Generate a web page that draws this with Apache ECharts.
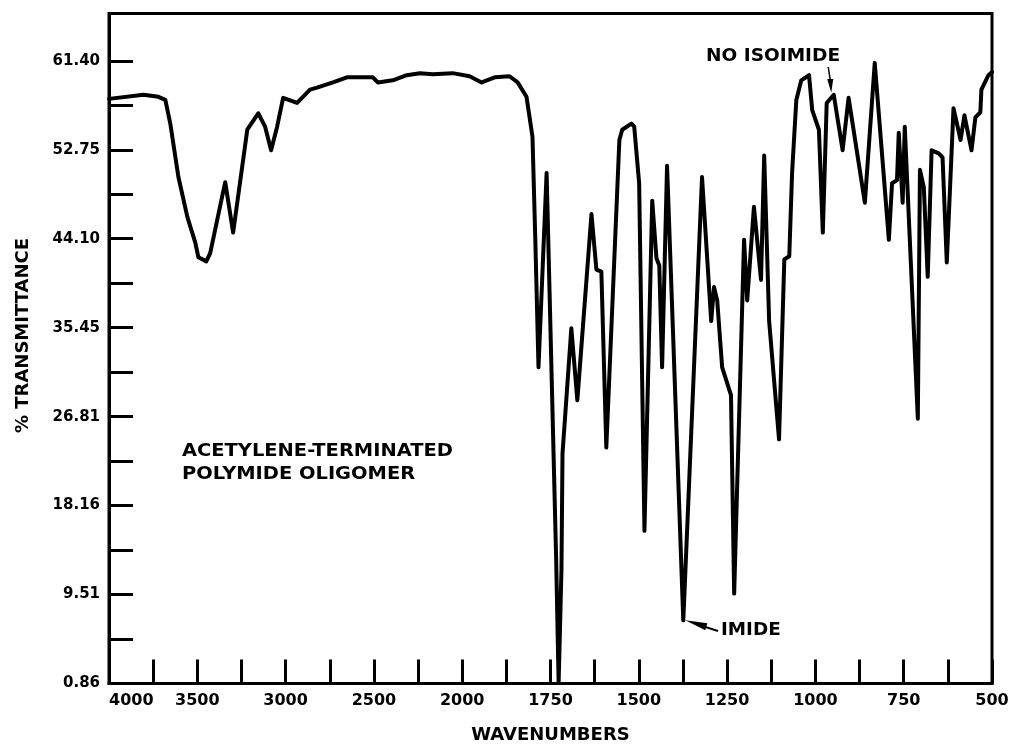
<!DOCTYPE html>
<html>
<head>
<meta charset="utf-8">
<script src="https://cdn.jsdelivr.net/npm/echarts/dist/echarts.min.js"></script>
<style>
html,body{margin:0;padding:0;background:#fff;}
#chart{width:1016px;height:751px;}
</style>
</head>
<body>
<div id="chart"></div>
<script>
// ---- data ----
const wavenumbers = [4000, 3805, 3720, 3681, 3653, 3607, 3556, 3511, 3494, 3449, 3427, 3342, 3297, 3217, 3155, 3116, 3082, 3048, 3014, 2935, 2862, 2822, 2732, 2653, 2506, 2478, 2393, 2314, 2240, 2167, 2054, 1979, 1945, 1908, 1866, 1843, 1818, 1810, 1801, 1793, 1784, 1761, 1734, 1727, 1719, 1716, 1691, 1674, 1634, 1620, 1606, 1592, 1555, 1547, 1521, 1513, 1499, 1484, 1462, 1450, 1442, 1434, 1420, 1374, 1321, 1295, 1287, 1278, 1264, 1239, 1230, 1202, 1193, 1174, 1154, 1145, 1131, 1103, 1088, 1074, 1066, 1054, 1040, 1018, 1009, 990, 979, 968, 948, 923, 906, 860, 832, 792, 783, 769, 764, 753, 747, 710, 704, 693, 682, 671, 651, 640, 628, 609, 589, 578, 558, 547, 533, 530, 510, 500];
const transmittance = [57.7, 58.1, 57.9, 57.6, 55.3, 50.1, 46.2, 43.7, 42.3, 41.9, 42.7, 49.6, 44.7, 54.7, 56.3, 55.0, 52.7, 55.0, 57.8, 57.3, 58.6, 58.8, 59.3, 59.8, 59.8, 59.3, 59.5, 60.0, 60.2, 60.1, 60.2, 59.9, 59.3, 59.8, 59.9, 59.3, 57.9, 56.1, 54.0, 44.0, 31.6, 50.5, 13.0, 0.9, 11.9, 23.2, 35.4, 28.4, 46.5, 41.1, 40.9, 23.8, 53.7, 54.7, 55.3, 55.0, 49.5, 15.7, 47.8, 42.2, 41.5, 31.6, 51.2, 7.0, 50.1, 36.1, 39.4, 38.1, 31.6, 28.9, 9.6, 44.0, 38.1, 47.2, 40.1, 52.2, 36.1, 24.6, 42.1, 42.4, 50.5, 57.6, 59.5, 60.0, 56.6, 54.7, 44.7, 57.3, 58.1, 52.7, 57.8, 47.6, 61.2, 44.0, 49.5, 49.8, 54.4, 47.6, 55.0, 26.6, 50.8, 49.1, 40.4, 52.7, 52.4, 52.0, 41.8, 56.8, 53.7, 56.1, 52.7, 55.9, 56.4, 58.6, 60.0, 60.3];
const xTickLabels = [4000, 3500, 3000, 2500, 2000, 1750, 1500, 1250, 1000, 750, 500];
const yTickLabels = ['0.86', '9.51', '18.16', '26.81', '35.45', '44.10', '52.75', '61.40'];
const yBase = 0.86, yStep = 8.6486, yTop = 66.0;

// piecewise wavenumber scale (scale change at 2000 cm-1), units of one labelled step
function wToU(w) { return w >= 2000 ? (4000 - w) / 500 : 4 + (2000 - w) / 250; }
function tToV(t) { return (t - yBase) / yStep; }

const seriesData = wavenumbers.map((w, i) => [wToU(w), tToV(transmittance[i])]);
const xLabelVals = xTickLabels.map(wToU);
const xTickVals = []; for (let k = 0; k <= 20; k++) xTickVals.push(k * 0.5);
const yLabelVals = yTickLabels.map((s, i) => i);
const yTickVals = []; for (let k = 0; k <= 14; k++) yTickVals.push(k * 0.5);

const FONT = 'DejaVu Sans';
const chart = echarts.init(document.getElementById('chart'), null, {renderer: 'canvas'});
chart.setOption({
  animation: false,
  backgroundColor: '#ffffff',
  grid: {left: 109, right: 24, top: 13.5, bottom: 67.5, show: true, borderColor: '#000', borderWidth: 3},
  xAxis: {
    type: 'value', min: 0, max: 10, interval: 0.5,
    name: 'WAVENUMBERS', nameLocation: 'middle', nameGap: 43,
    nameTextStyle: {fontFamily: FONT, fontWeight: 'bold', fontSize: 18, color: '#000'},
    axisLine: {show: true, lineStyle: {color: '#000', width: 3}},
    axisTick: {show: true, inside: true, length: 24, lineStyle: {color: '#000', width: 3}, customValues: xTickVals},
    axisLabel: {
      customValues: xLabelVals, margin: 9, alignMinLabel: 'left',
      fontFamily: FONT, fontWeight: 'bold', fontSize: 16, color: '#000',
      formatter: function (u) {
        const i = xLabelVals.findIndex(v => Math.abs(v - u) < 1e-6);
        return i >= 0 ? String(xTickLabels[i]) : '';
      }
    },
    splitLine: {show: false}
  },
  yAxis: {
    type: 'value', min: 0, max: tToV(yTop), interval: 0.5,
    name: '% TRANSMITTANCE', nameLocation: 'middle', nameGap: 77,
    nameTextStyle: {fontFamily: FONT, fontWeight: 'bold', fontSize: 18, color: '#000', padding: [0, 0, 0, 26]},
    axisLine: {show: true, lineStyle: {color: '#000', width: 3}},
    axisTick: {show: true, inside: true, length: 24, lineStyle: {color: '#000', width: 3}, customValues: yTickVals},
    axisLabel: {
      customValues: yLabelVals, margin: 9,
      fontFamily: FONT, fontWeight: 'bold', fontSize: 15, color: '#000',
      formatter: function (v) {
        const i = Math.round(v);
        return Math.abs(v - i) < 1e-6 && yTickLabels[i] ? yTickLabels[i] : '';
      }
    },
    splitLine: {show: false}
  },
  series: [{
    type: 'line', data: seriesData, symbol: 'none', silent: true,
    lineStyle: {color: '#000', width: 4, join: 'round', cap: 'round'}
  }]
});

// annotations
const imidePt = chart.convertToPixel({gridIndex: 0}, [wToU(1374), tToV(7.0)]);
const isoPt = chart.convertToPixel({gridIndex: 0}, [wToU(958), tToV(57.9)]);
const txt = {fontFamily: FONT, fontWeight: 'bold', fill: '#000'};
chart.setOption({
  graphic: [
    {type: 'text', x: 182, y: 440, scaleX: 1.08, style: Object.assign({text: 'ACETYLENE-TERMINATED\nPOLYMIDE OLIGOMER', fontSize: 18, lineHeight: 23}, txt)},
    {type: 'text', x: 706, y: 47, scaleX: 1.03, style: Object.assign({text: 'NO ISOIMIDE', fontSize: 18}, txt)},
    {type: 'text', x: 721, y: 622, scaleX: 1.08, style: Object.assign({text: 'IMIDE', fontSize: 17}, txt)},
    {type: 'line', shape: {x1: imidePt[0] + 14, y1: imidePt[1] + 4, x2: 718, y2: 631}, style: {stroke: '#000', lineWidth: 2}},
    {type: 'polygon', shape: {points: [[imidePt[0] + 2, imidePt[1]], [imidePt[0] + 24, imidePt[1] + 3], [imidePt[0] + 22, imidePt[1] + 10]]}, style: {fill: '#000'}},
    {type: 'line', shape: {x1: isoPt[0] - 2, y1: 67, x2: isoPt[0], y2: 80}, style: {stroke: '#000', lineWidth: 1.5}},
    {type: 'polygon', shape: {points: [[isoPt[0] - 3, 79], [isoPt[0] + 3, 79], [isoPt[0] + 1, isoPt[1] - 4]]}, style: {fill: '#000'}}
  ]
});
</script>
</body>
</html>
